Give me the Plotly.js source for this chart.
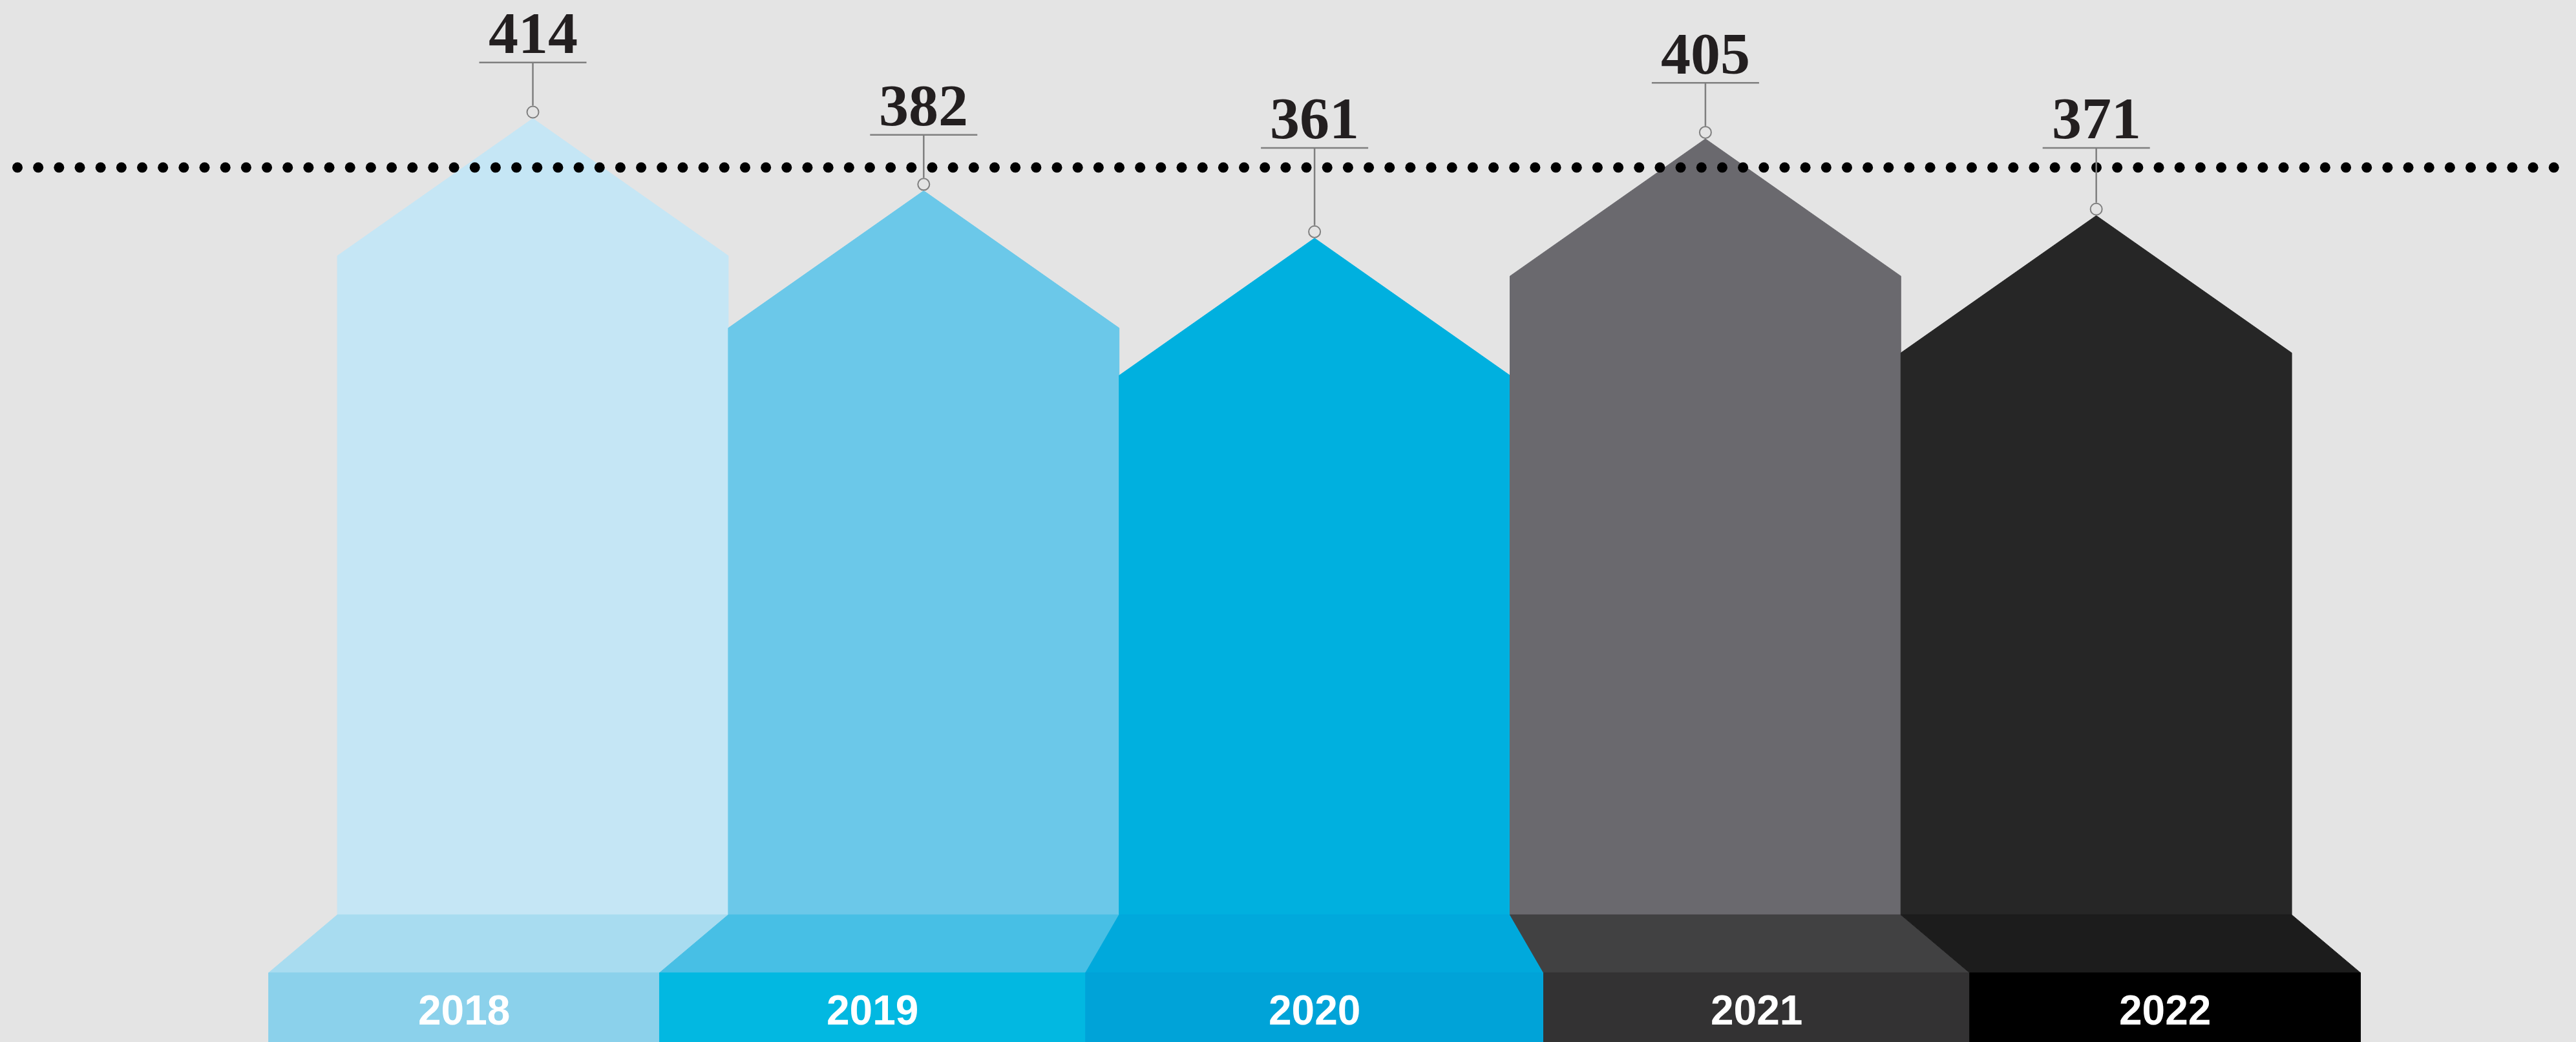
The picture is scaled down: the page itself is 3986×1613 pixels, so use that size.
<!DOCTYPE html>
<html>
<head>
<meta charset="utf-8">
<script src="https://cdn.plot.ly/plotly-3.0.1.min.js"></script>
<style>
  html, body { margin: 0; padding: 0; background: #E4E4E4; overflow: hidden; }
  #chart { width: 3986px; height: 1613px; }
</style>
</head>
<body>
<div id="chart"></div>
<script>
// ---- data ----
const years = ['2018', '2019', '2020', '2021', '2022'];
const values = [414, 382, 361, 405, 371];
const referenceLevel = 392.3;

// ---- style ----
const bodyColors = ['#C5E6F5', '#6BC8E9', '#00B0DF', '#6A696E', '#262626'];
const stepColors = ['#A8DCF0', '#47BFE5', '#00A9DC', '#414142', '#1C1C1C'];
const baseColors = ['#8BD1EB', '#02B8E1', '#00A3D8', '#333233', '#000000'];
const bgColor = '#E4E4E4';
const leaderColor = '#7F7F7F';

// ---- geometry (axis units) ----
const W = 3986, H = 1613;
const xRange = [-1.3633, 5.2274];
const yRange = [4.95, 466.5];
const pxPerY = H / (yRange[1] - yRange[0]);
const pxPerX = W / (xRange[1] - xRange[0]);
const roofDrop = 212.5 / pxPerY;
const bodyBottom = 61.3;
const baseTop = 35.6;
const baseBottom = 0;
const baseShift = [-0.176, -0.176, -0.086, 0.086, 0.176, 0.176];

const traces = [];

// pentagon bodies
values.forEach((v, i) => {
  traces.push({
    type: 'scatter', mode: 'lines', fill: 'toself', fillcolor: bodyColors[i],
    line: { width: 1, color: bodyColors[i] }, hoverinfo: 'skip',
    x: [i - 0.5, i - 0.5, i, i + 0.5, i + 0.5, i - 0.5],
    y: [bodyBottom, v - roofDrop, v, v - roofDrop, bodyBottom, bodyBottom]
  });
});

// perspective steps and base bands
years.forEach((yr, i) => {
  const L = i - 0.5 + baseShift[i], R = i + 0.5 + baseShift[i + 1];
  traces.push({
    type: 'scatter', mode: 'lines', fill: 'toself', fillcolor: stepColors[i],
    line: { width: 1, color: stepColors[i] }, hoverinfo: 'skip',
    x: [i - 0.5, i + 0.5, R, L, i - 0.5],
    y: [bodyBottom, bodyBottom, baseTop, baseTop, bodyBottom]
  });
  traces.push({
    type: 'scatter', mode: 'lines', fill: 'toself', fillcolor: baseColors[i],
    line: { width: 1, color: baseColors[i] }, hoverinfo: 'skip',
    x: [L, R, R, L, L],
    y: [baseTop, baseTop, baseBottom, baseBottom, baseTop]
  });
});

// dotted reference line (decoration)
const dotX = [], dotY = [];
const dotStep = 32.17 / pxPerX;
for (let x = xRange[0] + 27 / pxPerX; x < xRange[1] - 20 / pxPerX; x += dotStep) {
  dotX.push(x); dotY.push(referenceLevel);
}
traces.push({
  type: 'scatter', mode: 'markers', x: dotX, y: dotY, hoverinfo: 'skip',
  marker: { size: 16, color: '#000000' }
});

// leaders: underline + stem + circle
const lx = [], ly = [], cx = [], cy = [];
const underHalf = 83 / pxPerX;
const labelLines = values.map(v => Math.max(v + 24.8, 401));
values.forEach((v, i) => {
  const yl = labelLines[i];
  lx.push(i - underHalf, i + underHalf, null, i, i, null);
  ly.push(yl, yl, null, yl, v + 20 / pxPerY, null);
  cx.push(i); cy.push(v + 10 / pxPerY);
});
traces.push({
  type: 'scatter', mode: 'lines', x: lx, y: ly, hoverinfo: 'skip',
  line: { color: leaderColor, width: 2.5 }
});
traces.push({
  type: 'scatter', mode: 'markers', x: cx, y: cy, hoverinfo: 'skip',
  marker: { size: 18, color: 'rgba(0,0,0,0)', line: { color: leaderColor, width: 2 } }
});

// annotations
const annotations = [];
values.forEach((v, i) => {
  annotations.push({
    x: i, y: labelLines[i] + 13, xref: 'x', yref: 'y',
    text: '<b>' + String(v) + '</b>', showarrow: false, xanchor: 'center', yanchor: 'middle',
    borderpad: 0,
    font: { family: 'Liberation Serif, DejaVu Serif, serif', size: 92, color: '#231F20' }
  });
});
years.forEach((yr, i) => {
  const L = i - 0.5 + baseShift[i], R = i + 0.5 + baseShift[i + 1];
  annotations.push({
    x: (L + R) / 2, y: 19, xref: 'x', yref: 'y',
    text: '<b>' + yr + '</b>', showarrow: false, xanchor: 'center', yanchor: 'middle',
    borderpad: 0,
    font: { family: 'Liberation Sans, Arial, sans-serif', size: 64, color: '#FFFFFF' }
  });
});

const layout = {
  width: W, height: H,
  margin: { l: 0, r: 0, t: 0, b: 0, pad: 0 },
  paper_bgcolor: bgColor, plot_bgcolor: bgColor,
  showlegend: false,
  xaxis: { range: xRange, visible: false, fixedrange: true },
  yaxis: { range: yRange, visible: false, fixedrange: true },
  annotations: annotations
};

Plotly.newPlot('chart', traces, layout, { staticPlot: true, displayModeBar: false });
</script>
</body>
</html>
